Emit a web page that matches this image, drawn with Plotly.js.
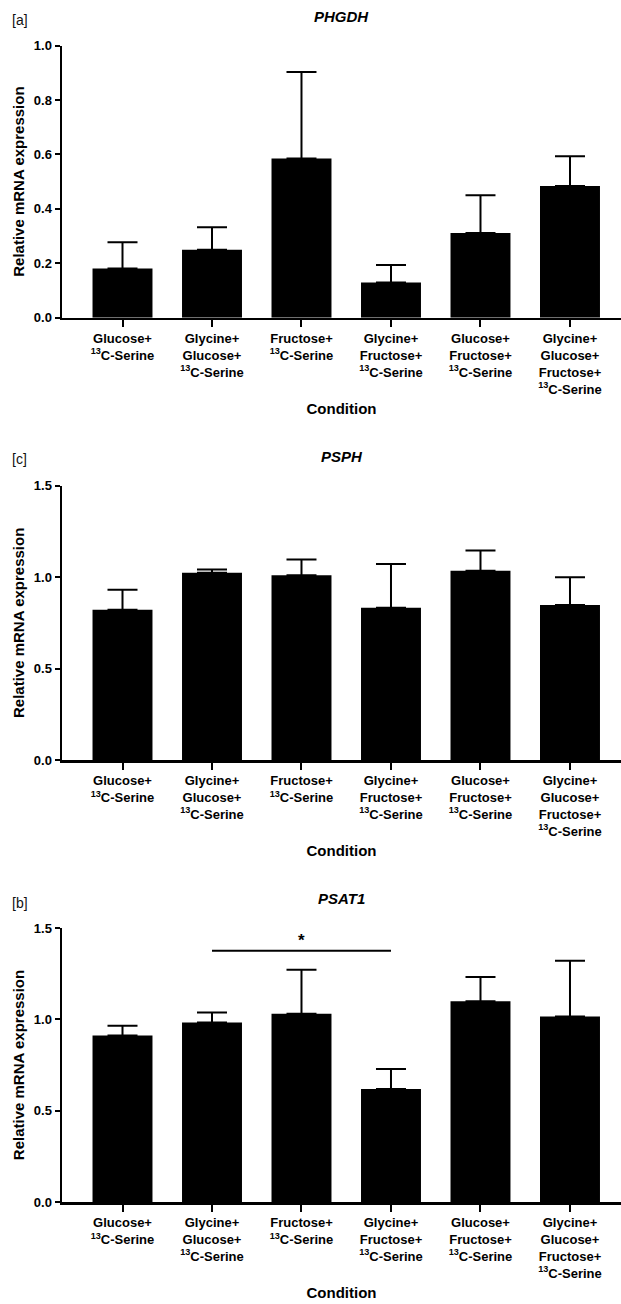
<!DOCTYPE html>
<html>
<head>
<meta charset="utf-8">
<script src="https://cdn.plot.ly/plotly-3.0.1.min.js"></script>
<style>html,body{margin:0;padding:0;background:#fff;}#chart{width:621px;height:1304px;}</style>
</head>
<body>
<div id="chart"></div>
<script>
// ---- data ----
const conditions = [
  "Glucose+<br><sup>13</sup>C-Serine",
  "Glycine+<br>Glucose+<br><sup>13</sup>C-Serine",
  "Fructose+<br><sup>13</sup>C-Serine",
  "Glycine+<br>Fructose+<br><sup>13</sup>C-Serine",
  "Glucose+<br>Fructose+<br><sup>13</sup>C-Serine",
  "Glycine+<br>Glucose+<br>Fructose+<br><sup>13</sup>C-Serine"
];
const phgdhMean = [0.181, 0.250, 0.585, 0.129, 0.311, 0.484];
const phgdhErr  = [0.096, 0.082, 0.318, 0.065, 0.139, 0.109];
const psphMean  = [0.822, 1.024, 1.010, 0.833, 1.035, 0.847];
const psphErr   = [0.109, 0.018, 0.087, 0.239, 0.110, 0.153];
const psat1Mean = [0.911, 0.982, 1.031, 0.619, 1.099, 1.015];
const psat1Err  = [0.054, 0.056, 0.241, 0.109, 0.133, 0.306];
const panelTitles = ["PHGDH", "PSPH", "PSAT1"];
const panelLetters = ["[a]", "[c]", "[b]"];
const sigPair = [1, 3];       // PSAT1 comparison bracket (category indices)
const sigLevel = 1.376;       // bracket height
const sigStarLevel = 1.43;
const sigLabel = "*";
const phgdhTicks = [0, 0.2, 0.4, 0.6, 0.8, 1.0];
const psTicks = [0, 0.5, 1.0, 1.5];

// ---- layout helpers ----
const H = 1304;
const FONT = "Liberation Sans, Arial, sans-serif";
const zeros = conditions.map(() => 0);

function barTrace(y, err, xa, ya) {
  return {
    type: "bar", x: conditions, y: y, xaxis: xa, yaxis: ya,
    marker: {color: "#000000", line: {width: 0}},
    error_y: {type: "data", symmetric: false, array: err, arrayminus: zeros,
              color: "#000000", thickness: 2, width: 15},
    hoverinfo: "skip", showlegend: false
  };
}

const traces = [
  barTrace(phgdhMean, phgdhErr, "x", "y"),
  barTrace(psphMean, psphErr, "x2", "y2"),
  barTrace(psat1Mean, psat1Err, "x3", "y3"),
  {
    type: "scatter", mode: "lines", xaxis: "x3", yaxis: "y3",
    x: [conditions[sigPair[0]], conditions[sigPair[1]]], y: [sigLevel, sigLevel],
    line: {color: "#000000", width: 2}, showlegend: false, hoverinfo: "skip"
  }
];

// pixel positions of each panel's plot area (top of y range, y=0)
const panels = [
  {top: 45.5, bottom: 317.7, range: [0, 1.0], ticks: phgdhTicks},
  {top: 485.7, bottom: 760, range: [0, 1.5], ticks: psTicks},
  {top: 928, bottom: 1202, range: [0, 1.5], ticks: psTicks}
];
const titleY = [17, 457, 898];
const letterY = [20, 459, 903];

const xRange = [-0.676, 5.57];

const layout = {
  width: 621, height: H,
  margin: {l: 62, r: 0, t: 0, b: 0, pad: 0},
  paper_bgcolor: "#ffffff", plot_bgcolor: "#ffffff",
  font: {family: FONT, color: "#000000", size: 13},
  bargap: 0.33,
  annotations: []
};

panels.forEach((p, i) => {
  const sfx = i === 0 ? "" : String(i + 1);
  const dom = [1 - p.bottom / H, 1 - p.top / H];
  layout["xaxis" + sfx] = {
    domain: [0, 1], anchor: "y" + sfx, type: "category", range: xRange,
    showline: true, linecolor: "#000000", linewidth: 2.5,
    ticks: "outside", ticklen: 7, tickwidth: 2, tickcolor: "#000000",
    showgrid: false, zeroline: false,
    tickfont: {family: FONT, size: 13, color: "#000000", weight: "bold"},
    title: {text: "Condition", font: {family: FONT, size: 15, color: "#000000", weight: "bold"}, standoff: 8}
  };
  layout["yaxis" + sfx] = {
    domain: dom, anchor: "x" + sfx, range: p.range,
    tickvals: p.ticks, tickformat: ".1f",
    showline: true, linecolor: "#000000", linewidth: 2.5,
    ticks: "outside", ticklen: 5, tickwidth: 2, tickcolor: "#000000",
    showgrid: false, zeroline: false,
    tickfont: {family: FONT, size: 13, color: "#000000", weight: "bold"},
    title: {text: "Relative mRNA expression", standoff: 6,
            font: {family: FONT, size: 15, color: "#000000", weight: "bold"}}
  };
  layout.annotations.push({
    xref: "paper", yref: "paper", x: 0.5, y: 1 - titleY[i] / H,
    xanchor: "center", yanchor: "middle", showarrow: false,
    text: "<i><b>" + panelTitles[i] + "</b></i>",
    font: {family: FONT, size: 15, color: "#000000"}
  });
  layout.annotations.push({
    xref: "paper", yref: "paper", x: -42 / 559, y: 1 - letterY[i] / H,
    xanchor: "center", yanchor: "middle", showarrow: false,
    text: panelLetters[i],
    font: {family: FONT, size: 14, color: "#111111"}
  });
});

layout.annotations.push({
  xref: "x3", yref: "y3", x: conditions[2], y: sigStarLevel,
  xanchor: "center", yanchor: "middle", showarrow: false,
  text: "<b>" + sigLabel + "</b>",
  font: {family: FONT, size: 17, color: "#000000"}
});

Plotly.newPlot("chart", traces, layout, {staticPlot: true, displayModeBar: false});
</script>
</body>
</html>
